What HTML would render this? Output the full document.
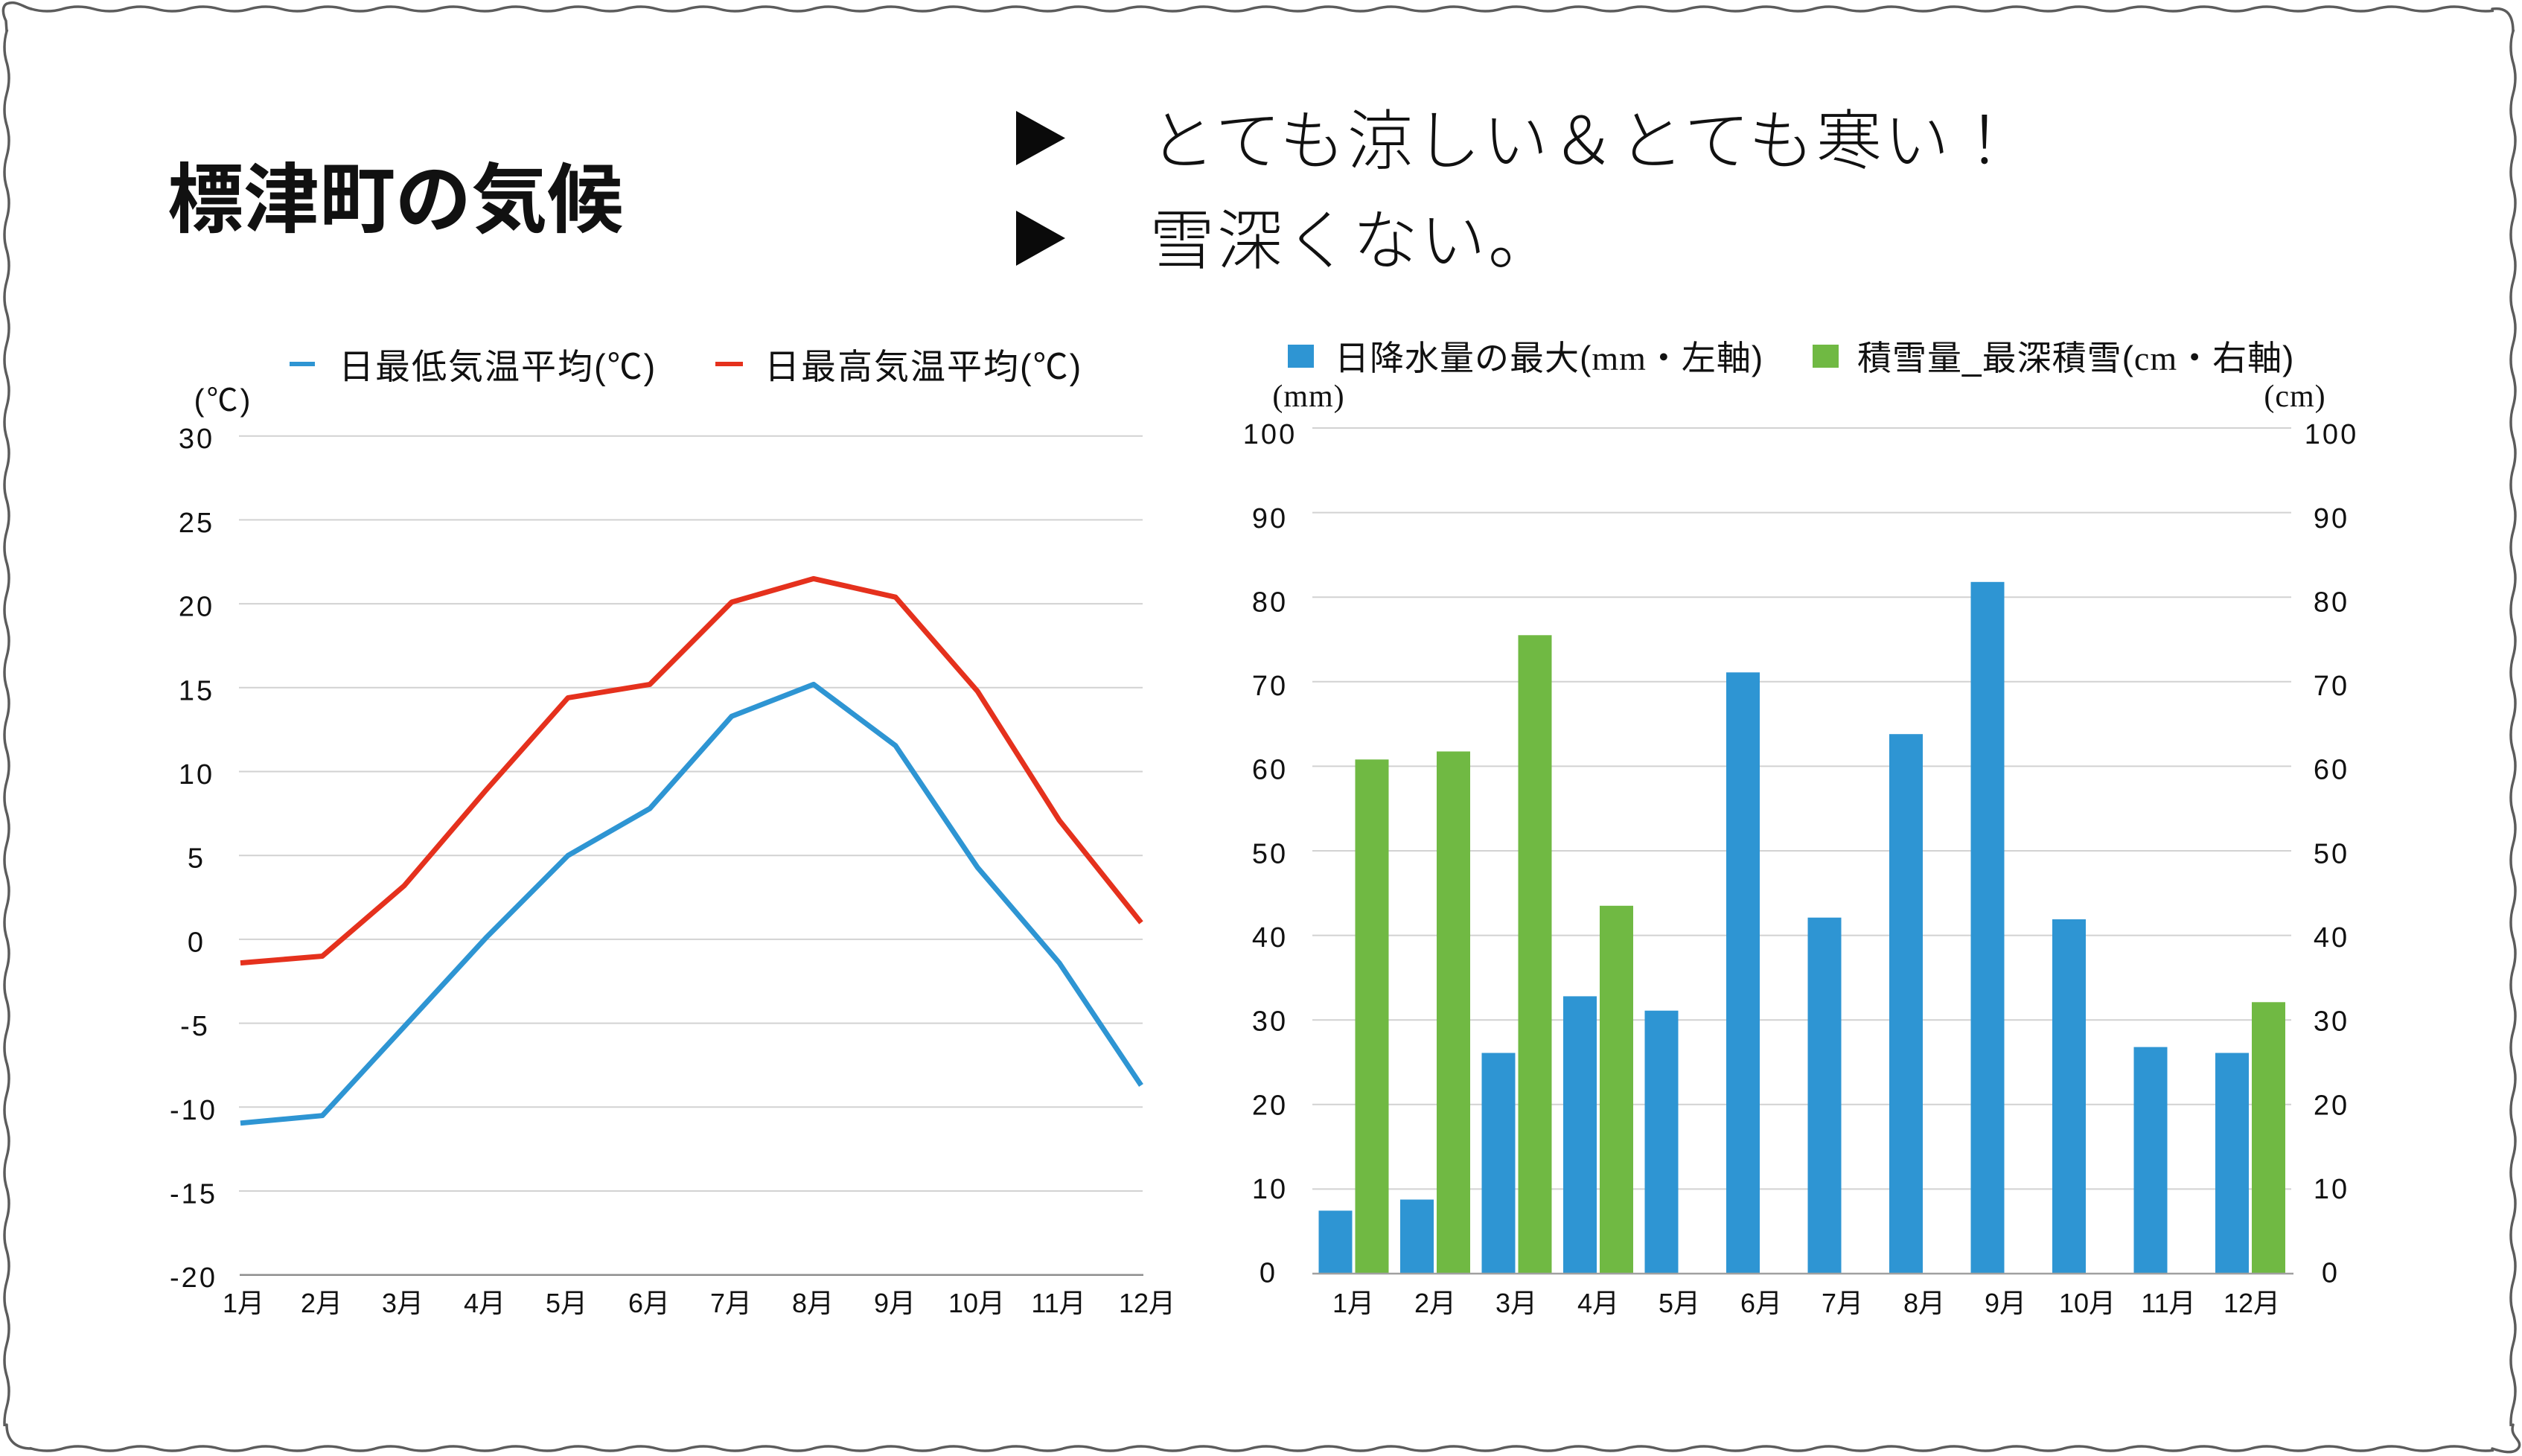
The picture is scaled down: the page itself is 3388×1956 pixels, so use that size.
<!DOCTYPE html>
<html>
<head>
<meta charset="utf-8">
<style>
html,body{margin:0;padding:0;background:#fff;}
body{width:3388px;height:1956px;overflow:hidden;}
svg{display:block;}
text{fill:#111;}
</style>
</head>
<body>
<svg width="3388" height="1956" viewBox="0 0 3388 1956" xmlns="http://www.w3.org/2000/svg" font-family="'Liberation Sans','Noto Sans CJK JP',sans-serif">
<defs>
  <pattern id="wv" patternUnits="userSpaceOnUse" width="84" height="14" patternTransform="translate(0,5)">
    <path d="M0 7 Q21 1 42 7 T84 7" fill="none" stroke="#5c5c5c" stroke-width="3.5" stroke-linecap="round"/>
  </pattern>
</defs>
<rect x="0" y="0" width="3388" height="1956" fill="#fff"/>

<!-- wavy border -->
<rect x="40" y="5" width="3310" height="14" fill="url(#wv)"/>
<g transform="translate(0,1934)"><rect x="40" y="5" width="3310" height="14" fill="url(#wv)"/></g>
<g transform="translate(21,0) rotate(90)"><rect x="40" y="5" width="1876" height="14" fill="url(#wv)"/></g>
<g transform="translate(3388,0) rotate(90)"><rect x="40" y="5" width="1876" height="14" fill="url(#wv)"/></g>
<g fill="none" stroke="#5c5c5c" stroke-width="3.5" stroke-linecap="round">
  <path d="M42 12 C 32 10, 22 0, 9 5 C 2 9, 4 20, 8 28 L 9 42"/>
  <path d="M3348 12 C 3362 10, 3376 14, 3376 42"/>
  <path d="M3376 1914 C 3371 1930, 3388 1934, 3384 1944 C 3378 1955, 3360 1950, 3348 1946"/>
  <path d="M9 1914 C 9 1934, 20 1946, 42 1946"/>
</g>

<!-- title -->
<text x="225" y="304" font-size="102" font-weight="700" font-family="'Liberation Sans','Noto Sans CJK JP',sans-serif" fill="#000">標津町の気候</text>

<!-- bullets -->
<polygon points="1365,149 1365,222 1431,185.5" fill="#0a0a0a"/>
<polygon points="1365,283 1365,357 1431,320" fill="#0a0a0a"/>
<text x="1544" y="220" font-size="88" font-weight="300" letter-spacing="3" fill="#000">とても涼しい＆とても寒い！</text>
<text x="1544" y="354" font-size="88" font-weight="300" letter-spacing="3" fill="#000">雪深くない。</text>

<!-- ===== Left chart ===== -->
<!-- legend -->
<rect x="389" y="486" width="34" height="6" fill="#2e95d3"/>
<text x="455" y="509" font-size="47" letter-spacing="2">日最低気温平均(℃)</text>
<rect x="961" y="486" width="37" height="6" fill="#e5311d"/>
<text x="1027" y="509" font-size="47" letter-spacing="2">日最高気温平均(℃)</text>
<text x="300" y="552" font-size="42" text-anchor="middle" letter-spacing="3">(℃)</text>

<!-- gridlines -->
<g stroke="#d2d2d2" stroke-width="2">
  <line x1="321" y1="585.7" x2="1535" y2="585.7"/>
  <line x1="321" y1="698.4" x2="1535" y2="698.4"/>
  <line x1="321" y1="811.1" x2="1535" y2="811.1"/>
  <line x1="321" y1="923.8" x2="1535" y2="923.8"/>
  <line x1="321" y1="1036.5" x2="1535" y2="1036.5"/>
  <line x1="321" y1="1149.2" x2="1535" y2="1149.2"/>
  <line x1="321" y1="1261.9" x2="1535" y2="1261.9"/>
  <line x1="321" y1="1374.6" x2="1535" y2="1374.6"/>
  <line x1="321" y1="1487.3" x2="1535" y2="1487.3"/>
  <line x1="321" y1="1600" x2="1535" y2="1600"/>
</g>
<line x1="322" y1="1712.7" x2="1536" y2="1712.7" stroke="#8e8e8e" stroke-width="2.5"/>

<!-- y labels -->
<g font-size="38" text-anchor="middle" letter-spacing="3">
  <text x="264" y="602.2">30</text>
  <text x="264" y="714.9">25</text>
  <text x="264" y="827.6">20</text>
  <text x="264" y="940.3">15</text>
  <text x="264" y="1053">10</text>
  <text x="264" y="1165.7">5</text>
  <text x="264" y="1278.4">0</text>
  <text x="262" y="1391.1">-5</text>
  <text x="260" y="1503.8">-10</text>
  <text x="260" y="1616.5">-15</text>
  <text x="260" y="1729.2">-20</text>
</g>
<!-- x labels -->
<g font-size="36" text-anchor="middle">
  <text x="327" y="1763">1月</text>
  <text x="432" y="1763">2月</text>
  <text x="541" y="1763">3月</text>
  <text x="651" y="1763">4月</text>
  <text x="761" y="1763">5月</text>
  <text x="872" y="1763">6月</text>
  <text x="982" y="1763">7月</text>
  <text x="1092" y="1763">8月</text>
  <text x="1202" y="1763">9月</text>
  <text x="1312" y="1763">10月</text>
  <text x="1422" y="1763">11月</text>
  <text x="1541" y="1763">12月</text>
</g>

<!-- lines -->
<polyline fill="none" stroke="#e5311d" stroke-width="7" stroke-linejoin="round"
  points="323,1293.6 433,1284.5 543,1189.9 653,1061.4 763,937.4 873,919.4 983,808.9 1093,777.4 1203,802.2 1313,928.4 1423,1102 1533,1239.5"/>
<polyline fill="none" stroke="#2e95d3" stroke-width="7" stroke-linejoin="round"
  points="323,1508.8 433,1498.7 543,1379.2 653,1259.7 763,1149.3 873,1086.2 983,962.2 1093,919.4 1203,1001.7 1313,1165.1 1423,1293.6 1533,1458.1"/>

<!-- ===== Right chart ===== -->
<!-- legend -->
<rect x="1730" y="463" width="35" height="31" fill="#2e95d3"/>
<text x="1793" y="497" font-size="46" letter-spacing="1">日降水量の最大(<tspan font-family="'Liberation Serif',serif">mm</tspan>・左軸)</text>
<rect x="2435" y="463" width="35" height="31" fill="#70b943"/>
<text x="2495" y="497" font-size="46" letter-spacing="1">積雪量_最深積雪(<tspan font-family="'Liberation Serif',serif">cm</tspan>・右軸)</text>
<g font-family="'Liberation Serif',serif" font-size="42" text-anchor="middle" letter-spacing="1">
  <text x="1758" y="546">(mm)</text>
  <text x="3083" y="546">(cm)</text>
</g>

<!-- gridlines -->
<g stroke="#d2d2d2" stroke-width="2">
  <line x1="1763" y1="575" x2="3078" y2="575"/>
  <line x1="1763" y1="688.6" x2="3078" y2="688.6"/>
  <line x1="1763" y1="802.2" x2="3078" y2="802.2"/>
  <line x1="1763" y1="915.8" x2="3078" y2="915.8"/>
  <line x1="1763" y1="1029.4" x2="3078" y2="1029.4"/>
  <line x1="1763" y1="1143" x2="3078" y2="1143"/>
  <line x1="1763" y1="1256.6" x2="3078" y2="1256.6"/>
  <line x1="1763" y1="1370.2" x2="3078" y2="1370.2"/>
  <line x1="1763" y1="1483.8" x2="3078" y2="1483.8"/>
  <line x1="1763" y1="1597.4" x2="3078" y2="1597.4"/>
</g>

<!-- bars precipitation -->
<g fill="#2e95d3">
  <rect x="1771.5" y="1626.4" width="45" height="84.6"/>
  <rect x="1881" y="1611.5" width="45" height="99.5"/>
  <rect x="1990.5" y="1414.5" width="45" height="296.5"/>
  <rect x="2100" y="1338.4" width="45" height="372.6"/>
  <rect x="2209.5" y="1357.7" width="45" height="353.3"/>
  <rect x="2319" y="903.3" width="45" height="807.7"/>
  <rect x="2428.5" y="1232.7" width="45" height="478.3"/>
  <rect x="2538" y="986.2" width="45" height="724.8"/>
  <rect x="2647.5" y="781.8" width="45" height="929.2"/>
  <rect x="2757" y="1235" width="45" height="476"/>
  <rect x="2866.5" y="1406.6" width="45" height="304.4"/>
  <rect x="2976" y="1414.5" width="45" height="296.5"/>
</g>
<!-- bars snow -->
<g fill="#70b943">
  <rect x="1820.5" y="1020.3" width="45" height="690.7"/>
  <rect x="1930" y="1009.5" width="45" height="701.5"/>
  <rect x="2039.5" y="853.3" width="45" height="857.7"/>
  <rect x="2149" y="1216.8" width="45" height="494.2"/>
  <rect x="3025" y="1346.3" width="45" height="364.7"/>
</g>
<line x1="1763" y1="1711" x2="3081" y2="1711" stroke="#a0a0a0" stroke-width="2.5"/>

<!-- left axis labels -->
<g font-size="38" text-anchor="middle" letter-spacing="3">
  <text x="1706" y="596.1">100</text>
  <text x="1706" y="708.8">90</text>
  <text x="1706" y="821.4">80</text>
  <text x="1706" y="934.1">70</text>
  <text x="1706" y="1046.7">60</text>
  <text x="1706" y="1159.4">50</text>
  <text x="1706" y="1272">40</text>
  <text x="1706" y="1384.7">30</text>
  <text x="1706" y="1497.3">20</text>
  <text x="1706" y="1610">10</text>
  <text x="1704" y="1722.6">0</text>
</g>
<!-- right axis labels -->
<g font-size="38" text-anchor="middle" letter-spacing="3">
  <text x="3132" y="596.1">100</text>
  <text x="3132" y="708.8">90</text>
  <text x="3132" y="821.4">80</text>
  <text x="3132" y="934.1">70</text>
  <text x="3132" y="1046.7">60</text>
  <text x="3132" y="1159.4">50</text>
  <text x="3132" y="1272">40</text>
  <text x="3132" y="1384.7">30</text>
  <text x="3132" y="1497.3">20</text>
  <text x="3132" y="1610">10</text>
  <text x="3131" y="1722.6">0</text>
</g>
<!-- x labels -->
<g font-size="36" text-anchor="middle">
  <text x="1818" y="1763">1月</text>
  <text x="1928" y="1763">2月</text>
  <text x="2037" y="1763">3月</text>
  <text x="2147" y="1763">4月</text>
  <text x="2256" y="1763">5月</text>
  <text x="2366" y="1763">6月</text>
  <text x="2475" y="1763">7月</text>
  <text x="2585" y="1763">8月</text>
  <text x="2694" y="1763">9月</text>
  <text x="2804" y="1763">10月</text>
  <text x="2913" y="1763">11月</text>
  <text x="3025" y="1763">12月</text>
</g>
</svg>
</body>
</html>
